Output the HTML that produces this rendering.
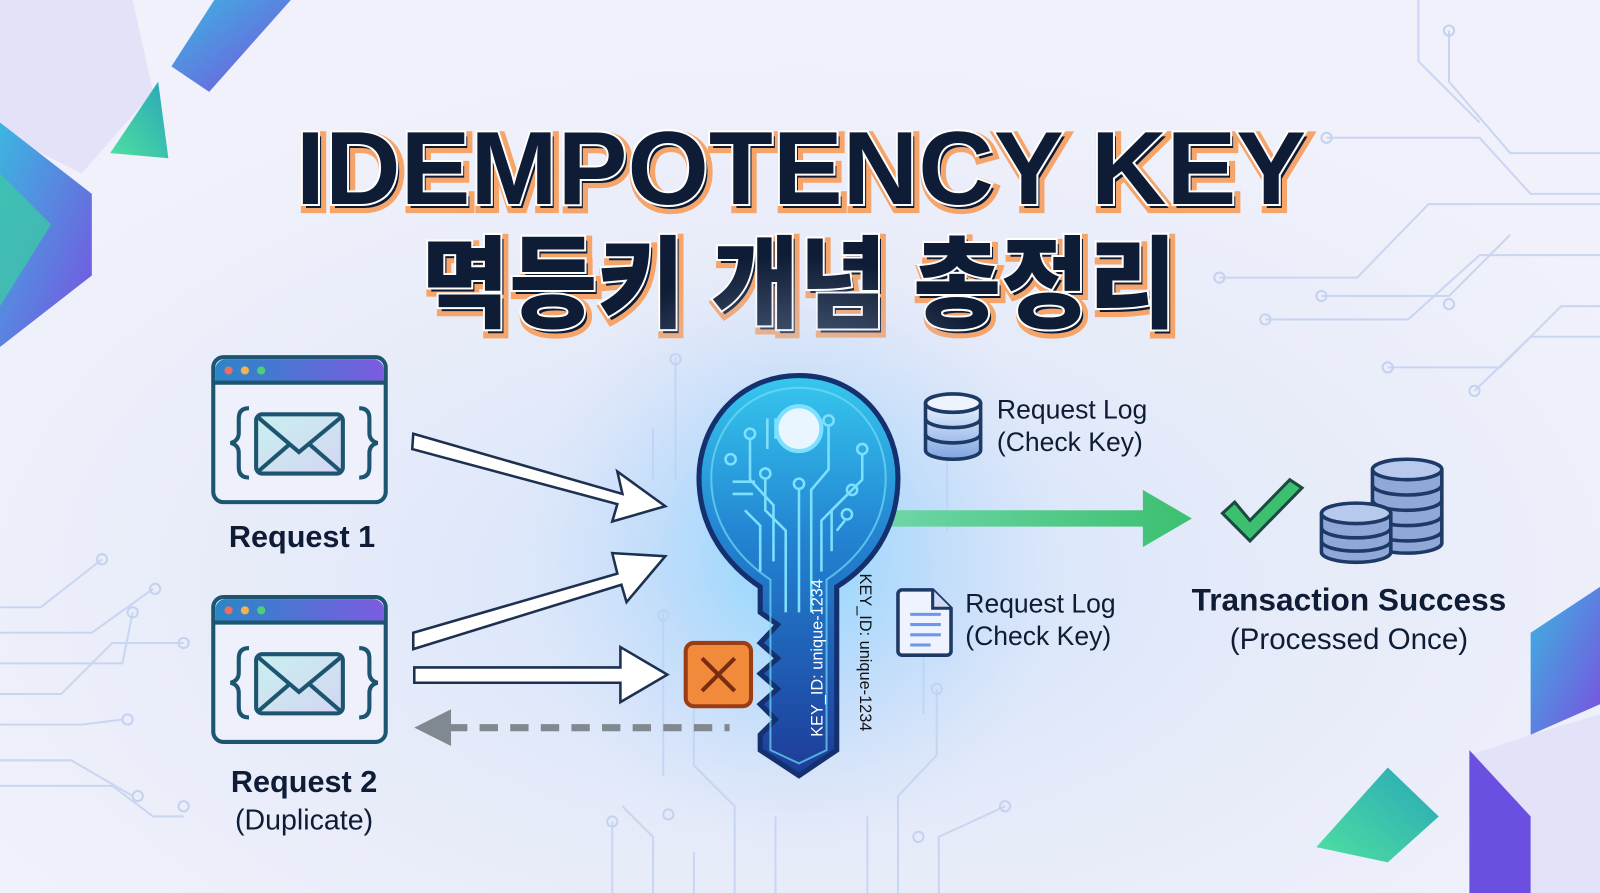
<!DOCTYPE html>
<html><head><meta charset="utf-8"><style>
html,body{margin:0;padding:0;width:1600px;height:893px;overflow:hidden;background:#eef0fa}
svg{display:block}
</style></head><body>
<svg width="1600" height="893" viewBox="0 0 1568 875" preserveAspectRatio="none" xmlns="http://www.w3.org/2000/svg">
<defs>
<radialGradient id="bg" cx="0.5" cy="0.65" r="0.6">
<stop offset="0" stop-color="#cfe3fb"/><stop offset="0.5" stop-color="#e6ebf9"/><stop offset="1" stop-color="#f0f1fa"/></radialGradient>
<radialGradient id="glow" cx="0.5" cy="0.5" r="0.5">
<stop offset="0" stop-color="#7fd6ff" stop-opacity="0.9"/><stop offset="0.5" stop-color="#a9d4fb" stop-opacity="0.5"/><stop offset="1" stop-color="#c9d7f7" stop-opacity="0"/></radialGradient>
<linearGradient id="keyg" x1="0" y1="0" x2="0" y2="1">
<stop offset="0" stop-color="#36c8ee"/><stop offset="0.4" stop-color="#2384d2"/><stop offset="1" stop-color="#1d3b98"/></linearGradient>
<linearGradient id="bar" x1="0" y1="0" x2="1" y2="0">
<stop offset="0" stop-color="#2a86c8"/><stop offset="1" stop-color="#7b5ce0"/></linearGradient>
<linearGradient id="env" x1="0" y1="0" x2="1" y2="1">
<stop offset="0" stop-color="#c9f0ee"/><stop offset="1" stop-color="#d3d5f3"/></linearGradient>
<linearGradient id="purp" x1="0" y1="0" x2="1" y2="1">
<stop offset="0" stop-color="#3bb6e0"/><stop offset="1" stop-color="#7a4fe0"/></linearGradient>
<linearGradient id="grn" x1="0" y1="1" x2="1" y2="0">
<stop offset="0" stop-color="#4fe0a0"/><stop offset="1" stop-color="#29a6b8"/></linearGradient>
<linearGradient id="garr" x1="0" y1="0" x2="1" y2="0">
<stop offset="0" stop-color="#6fd6a8"/><stop offset="1" stop-color="#3cc070"/></linearGradient>
<linearGradient id="db" x1="0" y1="0" x2="0" y2="1">
<stop offset="0" stop-color="#eaf2ff"/><stop offset="1" stop-color="#7fa5e0"/></linearGradient>
</defs>
<rect width="1568" height="875" fill="url(#bg)"/>
<!-- corner shapes -->
<polygon points="0,0 130,0 150,90 80,170 0,130" fill="#e4e2f8"/>
<polygon points="168,65 210,0 285,0 205,90" fill="url(#purp)"/>
<polygon points="108,150 155,80 165,155" fill="url(#grn)"/>
<polygon points="0,120 90,190 90,270 0,340" fill="url(#purp)"/>
<polygon points="0,170 50,220 0,300" fill="#3cc7a8" opacity="0.8"/>
<polygon points="1500,620 1568,575 1568,690 1500,720" fill="url(#purp)"/>
<polygon points="1440,740 1500,720 1568,700 1568,875 1500,875 1470,800" fill="#e2e0f7" opacity="0.9"/>
<polygon points="1440,735 1500,800 1500,875 1440,875" fill="#6a4fe0"/>
<polygon points="1290,830 1360,752 1410,800 1360,845" fill="url(#grn)"/>
<!-- circuit lines -->
<g stroke="#c4d2f0" stroke-width="2" fill="none" opacity="0.85">
<path d="M1420,30 V80 L1480,150 H1568"/><path d="M1300,135 H1450 L1500,190 H1568"/>
<path d="M1195,272 H1330 L1400,200 H1568"/><path d="M1240,313 H1380 L1450,250 H1568"/>
<path d="M1295,290 H1420 L1480,230"/><path d="M1360,360 H1470 L1530,300 H1568"/>
<path d="M1445,383 L1500,330 H1568"/><path d="M1390,0 V60 L1450,120"/>
<path d="M0,595 H40 L100,548"/><path d="M0,620 H90 L150,577"/><path d="M0,650 H120 L130,600"/>
<path d="M0,680 H60 L110,630 H180"/><path d="M0,710 H80 L120,705"/><path d="M0,745 H70 L130,780"/>
<path d="M0,770 H110 L150,800 H180"/>
<path d="M600,875 V805"/><path d="M640,875 V820 L610,790"/><path d="M680,875 V835"/>
<path d="M720,875 V790 L680,750 V690"/><path d="M760,875 V800"/><path d="M850,875 V800"/>
<path d="M880,875 V780 L918,740 V675"/><path d="M920,875 V820 L985,790"/><path d="M650,600 V760"/>
<path d="M662,350 V470"/><path d="M640,420 V470"/><path d="M905,630 V700"/><path d="M928,440 V520"/>
</g>
<g fill="none" stroke="#c4d2f0" stroke-width="2">
<circle cx="1420" cy="30" r="5"/><circle cx="1300" cy="135" r="5"/><circle cx="1195" cy="272" r="5"/><circle cx="1240" cy="313" r="5"/><circle cx="1295" cy="290" r="5"/><circle cx="1360" cy="360" r="5"/><circle cx="1445" cy="383" r="5"/><circle cx="1420" cy="298" r="5"/>
<circle cx="100" cy="548" r="5"/><circle cx="152" cy="577" r="5"/><circle cx="130" cy="600" r="5"/><circle cx="180" cy="630" r="5"/><circle cx="125" cy="705" r="5"/><circle cx="135" cy="780" r="5"/><circle cx="180" cy="790" r="5"/>
<circle cx="600" cy="805" r="5"/><circle cx="655" cy="798" r="5"/><circle cx="985" cy="790" r="5"/><circle cx="918" cy="675" r="5"/><circle cx="662" cy="352" r="5"/><circle cx="650" cy="603" r="5"/><circle cx="900" cy="820" r="5"/>
</g>
<!-- title -->
<g font-family="Liberation Sans, sans-serif" font-weight="bold" text-anchor="middle">
<text x="785" y="200" font-size="102" textLength="990" lengthAdjust="spacingAndGlyphs" fill="#0f1c35" stroke="#f5a46a" stroke-width="10" paint-order="stroke" transform="translate(3,4)">IDEMPOTENCY KEY</text>
<text x="785" y="200" font-size="102" textLength="990" lengthAdjust="spacingAndGlyphs" fill="#0f1c35" stroke="#ffffff" stroke-width="4" paint-order="stroke">IDEMPOTENCY KEY</text>
<text x="783" y="313" font-size="98" font-family="Liberation Sans, Noto Sans CJK KR, sans-serif" textLength="740" lengthAdjust="spacingAndGlyphs" fill="#0f1c35" stroke="#f5a46a" stroke-width="10" paint-order="stroke" transform="translate(3,4)" font-weight="900">멱등키 개념 총정리</text>
<text x="783" y="313" font-size="98" font-family="Liberation Sans, Noto Sans CJK KR, sans-serif" textLength="740" lengthAdjust="spacingAndGlyphs" fill="#0f1c35" stroke="#ffffff" stroke-width="4" paint-order="stroke" font-weight="900">멱등키 개념 총정리</text>
</g>
<!-- glow -->
<ellipse cx="780" cy="540" rx="270" ry="290" fill="url(#glow)"/>
<!-- request windows -->
<g id="win">
<rect x="209" y="350" width="169" height="142" rx="10" fill="#eef0fb" stroke="#1d5570" stroke-width="4"/>
<path d="M211,362 a10,10 0 0 1 10,-10 h145 a10,10 0 0 1 10,10 v12 h-165z" fill="url(#bar)"/>
<line x1="209" y1="375" x2="378" y2="375" stroke="#1d5570" stroke-width="4"/>
<circle cx="224" cy="363" r="4" fill="#f26b5b"/><circle cx="240" cy="363" r="4" fill="#f5b24a"/><circle cx="256" cy="363" r="4" fill="#4ccf7a"/>
<path d="M244,400 q-10,0 -10,10 v14 q0,8 -8,10 q8,2 8,10 v14 q0,10 10,10" fill="none" stroke="#1d5570" stroke-width="4"/>
<path d="M352,400 q10,0 10,10 v14 q0,8 8,10 q-8,2 -8,10 v14 q0,10 -10,10" fill="none" stroke="#1d5570" stroke-width="4"/>
<rect x="251" y="406" width="85" height="58" rx="6" fill="url(#env)" stroke="#1d5570" stroke-width="4"/>
<path d="M253,409 L293,443 L334,409 M253,462 L283,436 M334,462 L304,436" fill="none" stroke="#1d5570" stroke-width="4"/>
</g>
<use href="#win" y="235"/>
<g font-family="Liberation Sans, sans-serif" fill="#0f1c35" text-anchor="middle">
<text x="296" y="536" font-size="30" font-weight="bold">Request 1</text>
<text x="298" y="776" font-size="30" font-weight="bold">Request 2</text>
<text x="298" y="813" font-size="28">(Duplicate)</text>
</g>
<!-- white arrows -->
<g fill="#ffffff" stroke="#1d3050" stroke-width="2.5" stroke-linejoin="miter">
<polygon points="405,425 610,484 605,462 652,496 600,511 605,494 404,440"/>
<polygon points="405,620 605,562 600,542 652,545 614,590 609,573 405,636"/>
<polygon points="406,654 608,654 608,634 654,661 608,688 608,669 406,669"/>
</g>
<!-- dashed gray arrow -->
<line x1="440" y1="713" x2="715" y2="713" stroke="#808890" stroke-width="7" stroke-dasharray="18,12"/>
<polygon points="406,713 442,695 442,731" fill="#808890"/>
<!-- X box -->
<rect x="672" y="630" width="64" height="62" rx="8" fill="#f28a3c" stroke="#9a3d14" stroke-width="4"/>
<path d="M688,645 L720,677 M720,645 L688,677" stroke="#7a2c10" stroke-width="4"/>
<!-- green arrow -->
<polygon points="860,500 1120,500 1120,480 1168,508 1120,536 1120,516 860,516" fill="url(#garr)"/>
<!-- key -->
<path d="M783,368 C720,368 685,420 685,468 C685,520 715,555 745,575 V600 L762,612 L745,630 L762,645 L745,660 L762,675 L745,690 L760,705 L745,720 V735 L783,760 L820,735 V575 C852,555 880,520 880,468 C880,420 846,368 783,368Z" fill="url(#keyg)" stroke="#15306e" stroke-width="5"/>
<path d="M783,380 C728,380 697,425 697,468 C697,515 725,548 755,568 V735 L783,748 L810,735 V568 C840,548 868,515 868,468 C868,425 838,380 783,380Z" fill="none" stroke="#6fdcf5" stroke-width="2" opacity="0.7"/>
<circle cx="783" cy="420" r="22" fill="#eaf6ff" stroke="#7ee0ff" stroke-width="4"/>
<g fill="none" stroke="#7ee0ff" stroke-width="2.5">
<path d="M783,478 V600"/><circle cx="783" cy="474" r="5"/>
<path d="M750,470 V500 L770,520 V600"/><circle cx="750" cy="464" r="5"/>
<path d="M735,430 V470 L758,495 V550"/><circle cx="735" cy="425" r="5"/>
<path d="M812,418 V460 L795,480 V600"/><circle cx="812" cy="412" r="5"/>
<path d="M845,445 V470 L805,510 V560"/><circle cx="845" cy="440" r="5"/>
<path d="M830,485 L815,500 V540"/><circle cx="835" cy="480" r="5"/>
<path d="M828,510 L820,520"/><circle cx="830" cy="504" r="5"/>
<circle cx="716" cy="450" r="5"/><path d="M718,472 H740 M718,484 H738 M730,500 L745,515 V560"/>
<path d="M752,410 V440 M760,410 V430"/>
</g>
<text transform="translate(806,722) rotate(-90)" font-family="Liberation Sans, sans-serif" font-size="16" fill="#ffffff">KEY_ID: unique-1234</text>
<text transform="translate(843,562) rotate(90)" font-family="Liberation Sans, sans-serif" font-size="16" fill="#111">KEY_ID: unique-1234</text>
<!-- db icon -->
<g stroke="#1d3a66" stroke-width="3.5">
<path d="M907,395 v46 a27,9 0 0 0 54,0 v-46" fill="url(#db)"/>
<ellipse cx="934" cy="395" rx="27" ry="9" fill="#eef4ff"/>
<path d="M907,410 a27,9 0 0 0 54,0 M907,425 a27,9 0 0 0 54,0" fill="none"/>
</g>
<!-- doc icon -->
<path d="M884,578 h30 l18,18 v42 a4,4 0 0 1 -4,4 h-44 a4,4 0 0 1 -4,-4 v-56 a4,4 0 0 1 4,-4z" fill="#eef3ff" stroke="#1d3a66" stroke-width="3.5"/>
<path d="M914,578 v18 h18" fill="#cfdaf4" stroke="#1d3a66" stroke-width="3"/>
<g stroke="#6d97e8" stroke-width="3"><line x1="892" y1="602" x2="922" y2="602"/><line x1="892" y1="612" x2="922" y2="612"/><line x1="892" y1="622" x2="922" y2="622"/><line x1="892" y1="632" x2="912" y2="632"/></g>
<g font-family="Liberation Sans, sans-serif" font-size="26" fill="#0f1c35">
<text x="977" y="410">Request Log</text><text x="977" y="442">(Check Key)</text>
<text x="946" y="600">Request Log</text><text x="946" y="632">(Check Key)</text>
</g>
<!-- check -->
<path d="M1198,503 L1225,530 L1276,478 L1264,470 L1225,510 L1210,492Z" fill="#3cc070" stroke="#1d4a40" stroke-width="3"/>
<!-- coins -->
<g stroke="#1d3a66" stroke-width="3.5" fill="#8fa8d8">
<path d="M1345,460 v72 a34,10 0 0 0 68,0 v-72" />
<ellipse cx="1379" cy="460" rx="34" ry="10" fill="#b7c9ec"/>
<path d="M1345,475 a34,10 0 0 0 68,0 M1345,490 a34,10 0 0 0 68,0 M1345,505 a34,10 0 0 0 68,0 M1345,520 a34,10 0 0 0 68,0" fill="none"/>
<path d="M1295,503 v38 a34,10 0 0 0 68,0 v-38"/>
<ellipse cx="1329" cy="503" rx="34" ry="10" fill="#b7c9ec"/>
<path d="M1295,517 a34,10 0 0 0 68,0 M1295,530 a34,10 0 0 0 68,0" fill="none"/>
</g>
<g font-family="Liberation Sans, sans-serif" fill="#0f1c35" text-anchor="middle">
<text x="1322" y="598" font-size="31" font-weight="bold">Transaction Success</text>
<text x="1322" y="636" font-size="29">(Processed Once)</text>
</g>
</svg>
</body></html>
